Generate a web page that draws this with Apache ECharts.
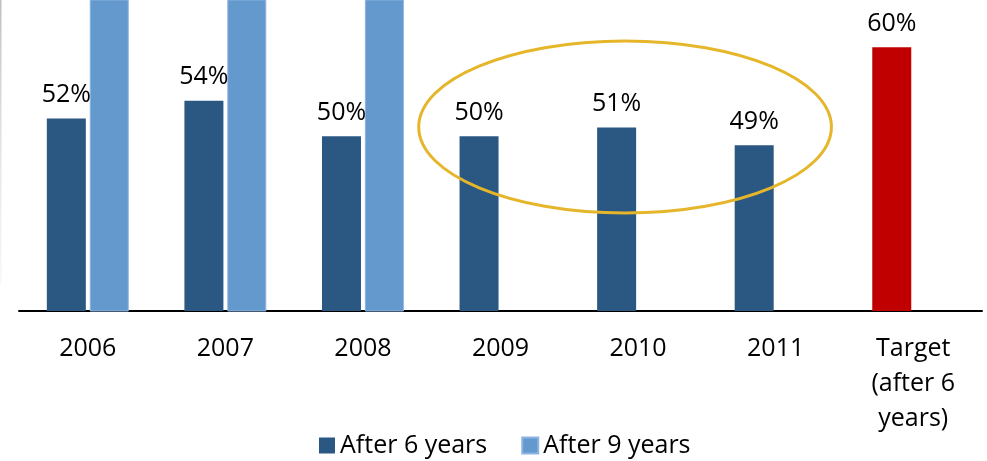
<!DOCTYPE html>
<html>
<head>
<meta charset="utf-8">
<script src="https://cdn.jsdelivr.net/npm/echarts@6/dist/echarts.min.js"></script>
<style>
  html, body { margin: 0; padding: 0; background: #fff; }
  #chart { width: 987px; height: 461px; }
</style>
</head>
<body>
<div id="chart"></div>
<script>
// Graduation rates by entry cohort
const categories = ['2006', '2007', '2008', '2009', '2010', '2011', 'Target\n(after 6\nyears)'];
const after6 = [52, 54, 50, 50, 51, 49, 60];
const after9 = [72, 74, 71, null, null, null, null];
const seriesNames = ['After 6 years', 'After 9 years'];

const DARK = '#2b5783';
const LIGHT = '#6399cc';
const TARGET = '#c00000';
const FONT = '"Open Sans", "Noto Sans", sans-serif';

const chart = echarts.init(document.getElementById('chart'), null, { renderer: 'canvas' });

const option = {
  animation: false,
  backgroundColor: '#fff',
  textStyle: { fontFamily: FONT },
  grid: { left: 19, right: 5, top: 0, bottom: 150, containLabel: false },
  legend: {
    bottom: 3,
    left: 319,
    padding: 0,
    itemWidth: 16,
    itemHeight: 16,
    itemGap: 34,
    icon: 'rect',
    textStyle: { fontFamily: FONT, fontSize: 25, color: '#000' },
    data: seriesNames
  },
  xAxis: {
    type: 'category',
    data: categories,
    axisLine: { show: true, lineStyle: { color: '#000', width: 2 } },
    axisTick: { show: false },
    axisLabel: {
      fontFamily: FONT, fontSize: 25, color: '#000',
      margin: 20, lineHeight: 35, interval: 0, verticalAlign: 'top'
    }
  },
  yAxis: {
    type: 'value',
    min: 30.4,
    max: 65.3,
    show: false,
    splitLine: { show: false }
  },
  series: [
    {
      name: seriesNames[0],
      type: 'bar',
      data: after6.map((v, i) => i === after6.length - 1
        ? { value: v, itemStyle: { color: TARGET } }
        : v),
      itemStyle: { color: DARK },
      barWidth: 39,
      barGap: '10%',
      label: {
        show: true,
        position: 'top',
        distance: 11,
        formatter: '{c}%',
        fontFamily: FONT, fontSize: 25, color: '#000'
      }
    },
    {
      name: seriesNames[1],
      type: 'bar',
      data: after9,
      itemStyle: { color: LIGHT, borderColor: '#8db3e2', borderWidth: 1 },
      barWidth: 39,
      barGap: '10%',
      clip: true
    }
  ]
};

chart.setOption(option);

// Highlight ring around the 2009–2011 cohorts, placed from the axes
function drawRing() {
  const c = chart.convertToPixel({ seriesIndex: 0 }, ['2010', 51.05]);
  const a = chart.convertToPixel({ seriesIndex: 0 }, ['2009', 51.05]);
  const top = chart.convertToPixel({ seriesIndex: 0 }, ['2010', 60.7]);
  const step = c[0] - a[0];
  const grid = chart.convertToPixel({ seriesIndex: 0 }, ['2006', 65.3]);
  const base = chart.convertToPixel({ seriesIndex: 0 }, ['2006', 38.0]);
  chart.setOption({
    graphic: [
      {
        type: 'ellipse',
        z: 100,
        shape: { cx: c[0] - 13, cy: c[1], rx: step * 1.5, ry: c[1] - top[1] },
        style: { fill: 'none', stroke: '#e6b62a', lineWidth: 3 }
      },
      {
        type: 'line',
        z: 100,
        shape: { x1: 0.5, y1: grid[1], x2: 0.5, y2: base[1] + 40 },
        style: {
          stroke: new echarts.graphic.LinearGradient(0, 0, 0, 1, [
            { offset: 0, color: '#bfbfbf' },
            { offset: 1, color: 'rgba(230,230,230,0.3)' }
          ]),
          lineWidth: 2
        }
      }
    ]
  });
}
drawRing();
</script>
</body>
</html>
